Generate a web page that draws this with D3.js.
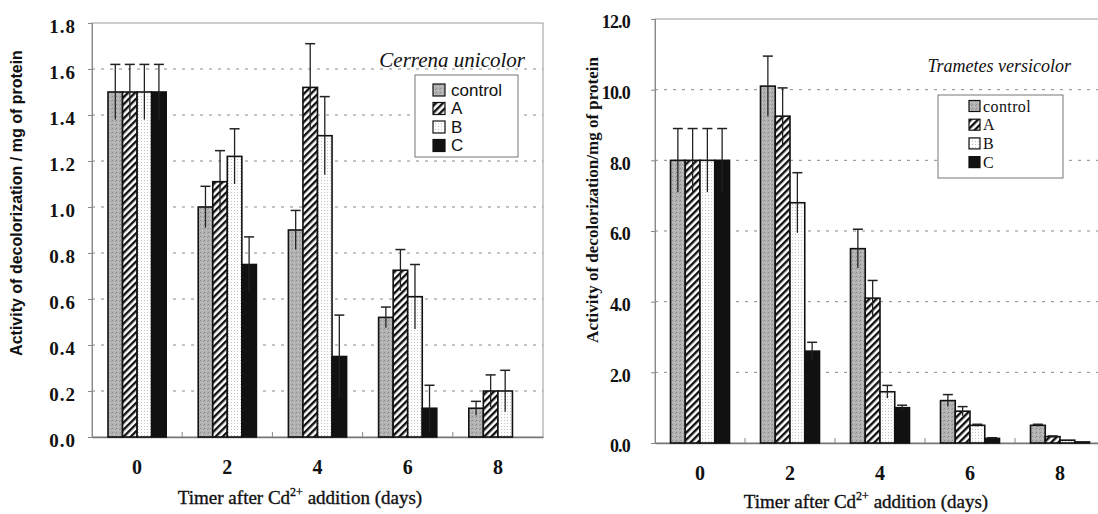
<!DOCTYPE html>
<html>
<head>
<meta charset="utf-8">
<script src="https://cdnjs.cloudflare.com/ajax/libs/d3/7.8.5/d3.min.js"></script>
<style>
body { margin: 0; background: #fff; }
svg { display: block; }
</style>
</head>
<body>
<svg width="1098" height="514"></svg>
<script>
// categories (days after Cd2+ addition) and series names
var days = ['0', '2', '4', '6', '8'];
var series = ['control', 'A', 'B', 'C'];

// Cerrena unicolor
var cerrenaControl = [1.5, 1.0, 0.9, 0.52, 0.125];
var cerrenaA = [1.5, 1.11, 1.52, 0.725, 0.2];
var cerrenaB = [1.5, 1.22, 1.31, 0.61, 0.2];
var cerrenaC = [1.5, 0.75, 0.35, 0.125, 0];
var cerrenaControlErr = [0.12, 0.09, 0.085, 0.045, 0.03];
var cerrenaAErr = [0.12, 0.135, 0.19, 0.09, 0.07];
var cerrenaBErr = [0.12, 0.12, 0.17, 0.14, 0.09];
var cerrenaCErr = [0.12, 0.12, 0.18, 0.1, 0];
var cerrenaTicks = [0, 0.2, 0.4, 0.6, 0.8, 1.0, 1.2, 1.4, 1.6, 1.8];

// Trametes versicolor
var trametesControl = [8.0, 10.1, 5.5, 1.2, 0.5];
var trametesA = [8.0, 9.25, 4.1, 0.9, 0.18];
var trametesB = [8.0, 6.8, 1.45, 0.5, 0.08];
var trametesC = [8.0, 2.6, 1.0, 0.13, 0.03];
var trametesControlErr = [0.9, 0.85, 0.55, 0.17, 0.03];
var trametesAErr = [0.9, 0.8, 0.5, 0.13, 0.02];
var trametesBErr = [0.9, 0.85, 0.18, 0.03, 0];
var trametesCErr = [0.9, 0.25, 0.07, 0.02, 0];
var trametesTicks = [0, 2, 4, 6, 8, 10, 12];

var svg = d3.select('svg');
var defs = svg.append('defs');

// bar fills
var pCtrl = defs.append('pattern').attr('id', 'pCtrl')
	.attr('width', 4).attr('height', 4).attr('patternUnits', 'userSpaceOnUse');
pCtrl.append('rect').attr('width', 4).attr('height', 4).attr('fill', '#b2b2b2');
pCtrl.append('rect').attr('x', 0).attr('y', 0).attr('width', 1).attr('height', 1).attr('fill', '#8c8c8c');
pCtrl.append('rect').attr('x', 2).attr('y', 2).attr('width', 1).attr('height', 1).attr('fill', '#cfcfcf');
pCtrl.append('rect').attr('x', 3).attr('y', 1).attr('width', 1).attr('height', 1).attr('fill', '#9a9a9a');

var pA = defs.append('pattern').attr('id', 'pA')
	.attr('width', 5).attr('height', 5).attr('patternUnits', 'userSpaceOnUse')
	.attr('patternTransform', 'rotate(45)');
pA.append('rect').attr('width', 5).attr('height', 5).attr('fill', '#fff');
pA.append('rect').attr('width', 2.4).attr('height', 5).attr('fill', '#111');

var pB = defs.append('pattern').attr('id', 'pB')
	.attr('width', 3).attr('height', 3).attr('patternUnits', 'userSpaceOnUse');
pB.append('rect').attr('width', 3).attr('height', 3).attr('fill', '#fdfdfd');
pB.append('rect').attr('width', 1).attr('height', 1).attr('fill', '#c4c4c4');

var fills = {control: 'url(#pCtrl)', A: 'url(#pA)', B: 'url(#pB)', C: '#111'};

function drawChart(cfg) {
	var x = d3.scaleBand().domain(days).range([cfg.left, cfg.right]);
	var xs = d3.scaleBand().domain(series).range([0, x.bandwidth()])
		.paddingInner(0).paddingOuter(cfg.outer);
	var y = d3.scaleLinear().domain([0, cfg.max]).range([cfg.bottom, cfg.top]);

	var g = svg.append('g');

	// plot frame
	g.append('rect')
		.attr('x', cfg.left).attr('y', cfg.top)
		.attr('width', cfg.right - cfg.left).attr('height', cfg.bottom - cfg.top)
		.attr('fill', 'none').attr('stroke', '#9a9a9a').attr('stroke-width', 1);

	// dashed grid
	g.selectAll('.grid').data(cfg.ticks.slice(1, -1)).enter().append('line')
		.attr('x1', cfg.left).attr('x2', cfg.right)
		.attr('y1', function(d) { return y(d); }).attr('y2', function(d) { return y(d); })
		.attr('stroke', '#8a8a8a').attr('stroke-width', 1)
		.attr('stroke-dasharray', '3,6');

	// y axis
	var ya = g.append('g')
		.attr('transform', 'translate(' + cfg.left + ',0)')
		.call(d3.axisLeft(y).tickValues(cfg.ticks).tickSize(4).tickPadding(cfg.tickPad)
			.tickFormat(d3.format('.1f')));
	ya.select('.domain').attr('stroke', '#888');
	ya.selectAll('.tick line').attr('stroke', '#888');
	ya.selectAll('.tick text')
		.attr('dy', '0.32em').attr('y', 3)
		.attr('font-family', 'Liberation Serif').attr('font-weight', 'bold')
		.attr('font-size', cfg.tickFont).attr('letter-spacing', cfg.tickSpacing)
		.attr('fill', '#111');

	// x axis
	var xa = g.append('g')
		.attr('transform', 'translate(0,' + cfg.bottom + ')')
		.call(d3.axisBottom(x).tickSize(0).tickPadding(cfg.xPad));
	xa.select('.domain').attr('stroke', '#777').attr('stroke-width', 1.6);
	xa.selectAll('.tick text')
		.attr('font-family', 'Liberation Serif').attr('font-weight', 'bold')
		.attr('font-size', 20).attr('fill', '#111');
	g.selectAll('.xtick').data(days.slice(1)).enter().append('line')
		.attr('x1', function(d) { return x(d); }).attr('x2', function(d) { return x(d); })
		.attr('y1', cfg.bottom - 5).attr('y2', cfg.bottom)
		.attr('stroke', '#888');

	// bars
	var rows = [];
	series.forEach(function(s, si) {
		days.forEach(function(d, di) {
			rows.push({day: d, s: s, v: cfg.values[si][di], e: cfg.errors[si][di]});
		});
	});
	rows = rows.filter(function(r) { return r.v > 0; });

	g.selectAll('.bar').data(rows).enter().append('rect')
		.attr('x', function(r) { return x(r.day) + xs(r.s); })
		.attr('y', function(r) { return y(r.v); })
		.attr('width', xs.bandwidth())
		.attr('height', function(r) { return y(0) - y(r.v); })
		.attr('fill', function(r) { return fills[r.s]; })
		.attr('stroke', '#111').attr('stroke-width', 1.6);

	// error bars
	var eb = g.selectAll('.err').data(rows.filter(function(r) { return r.e > 0; }))
		.enter().append('g');
	eb.append('line')
		.attr('x1', function(r) { return x(r.day) + xs(r.s) + xs.bandwidth() / 2; })
		.attr('x2', function(r) { return x(r.day) + xs(r.s) + xs.bandwidth() / 2; })
		.attr('y1', function(r) { return y(r.v - r.e); })
		.attr('y2', function(r) { return y(r.v + r.e); })
		.attr('stroke', '#222').attr('stroke-width', 1.3);
	eb.append('line')
		.attr('x1', function(r) { return x(r.day) + xs(r.s) + xs.bandwidth() / 2 - 5; })
		.attr('x2', function(r) { return x(r.day) + xs(r.s) + xs.bandwidth() / 2 + 5; })
		.attr('y1', function(r) { return y(r.v + r.e); })
		.attr('y2', function(r) { return y(r.v + r.e); })
		.attr('stroke', '#222').attr('stroke-width', 1.5);

	// species name
	g.append('text')
		.attr('x', cfg.titleX).attr('y', cfg.titleY)
		.attr('text-anchor', 'end')
		.attr('font-family', 'Liberation Serif').attr('font-style', 'italic')
		.attr('font-size', cfg.titleFont).attr('fill', '#111')
		.text(cfg.title);

	// legend
	var lg = cfg.legend;
	g.append('rect')
		.attr('x', lg.x).attr('y', lg.y).attr('width', lg.w).attr('height', lg.h)
		.attr('fill', '#fff').attr('stroke', '#777').attr('stroke-width', 1);
	series.forEach(function(s, i) {
		var cy = lg.row0 + i * lg.step;
		g.append('rect')
			.attr('x', lg.sx).attr('y', cy - lg.sw / 2)
			.attr('width', lg.sw).attr('height', lg.sw)
			.attr('fill', fills[s]).attr('stroke', '#111').attr('stroke-width', 1.2);
		g.append('text')
			.attr('x', lg.tx).attr('y', cy).attr('dy', '0.35em')
			.attr('font-family', lg.font).attr('font-size', lg.size)
			.attr('letter-spacing', lg.spacing)
			.attr('fill', '#111')
			.text(s);
	});

	// axis titles
	g.append('text')
		.attr('transform', 'translate(' + cfg.yLabelX + ',' + cfg.yLabelY + ') rotate(-90)')
		.attr('text-anchor', 'middle')
		.attr('font-family', cfg.yLabelFont).attr('font-weight', 'bold')
		.attr('font-size', cfg.yLabelSize).attr('fill', '#111')
		.text(cfg.yLabel);

	var xt = g.append('text')
		.attr('x', cfg.xTitleX).attr('y', cfg.xTitleY)
		.attr('text-anchor', 'middle')
		.attr('font-family', 'Liberation Serif')
		.attr('font-size', 19).attr('fill', '#111')
		.attr('stroke', '#111').attr('stroke-width', 0.35);
	xt.append('tspan').text('Timer after Cd');
	xt.append('tspan').attr('dy', -8).attr('font-size', 12).text('2+');
	xt.append('tspan').attr('dy', 8).text(' addition (days)');
}

drawChart({
	left: 92, right: 543, top: 23, bottom: 437, max: 1.8,
	outer: 1.1, ticks: cerrenaTicks, tickFont: 19, tickSpacing: 1, tickPad: 12, xPad: 23,
	values: [cerrenaControl, cerrenaA, cerrenaB, cerrenaC],
	errors: [cerrenaControlErr, cerrenaAErr, cerrenaBErr, cerrenaCErr],
	title: 'Cerrena unicolor', titleX: 525, titleY: 67, titleFont: 21,
	legend: {x: 415, y: 75, w: 103, h: 82, sx: 433, sw: 12, tx: 451, row0: 90, step: 18.5,
		font: 'Liberation Sans', size: 17, spacing: 0},
	yLabel: 'Activity of decolorization / mg of protein',
	yLabelX: 22, yLabelY: 203, yLabelFont: 'Liberation Sans', yLabelSize: 16,
	xTitleX: 300, xTitleY: 504
});

drawChart({
	left: 655, right: 1105, top: 19, bottom: 443, max: 12,
	outer: 1.05, ticks: trametesTicks, tickFont: 18, tickSpacing: -0.8, tickPad: 21, xPad: 23,
	values: [trametesControl, trametesA, trametesB, trametesC],
	errors: [trametesControlErr, trametesAErr, trametesBErr, trametesCErr],
	title: 'Trametes versicolor', titleX: 1071, titleY: 72, titleFont: 18,
	legend: {x: 938, y: 95, w: 125, h: 83, sx: 969, sw: 11, tx: 983, row0: 106, step: 18.7,
		font: 'Liberation Serif', size: 16, spacing: 0.4},
	yLabel: 'Activity of decolorization/mg of protein',
	yLabelX: 598, yLabelY: 200, yLabelFont: 'Liberation Serif', yLabelSize: 17,
	xTitleX: 866, xTitleY: 508
});
</script>
</body>
</html>
